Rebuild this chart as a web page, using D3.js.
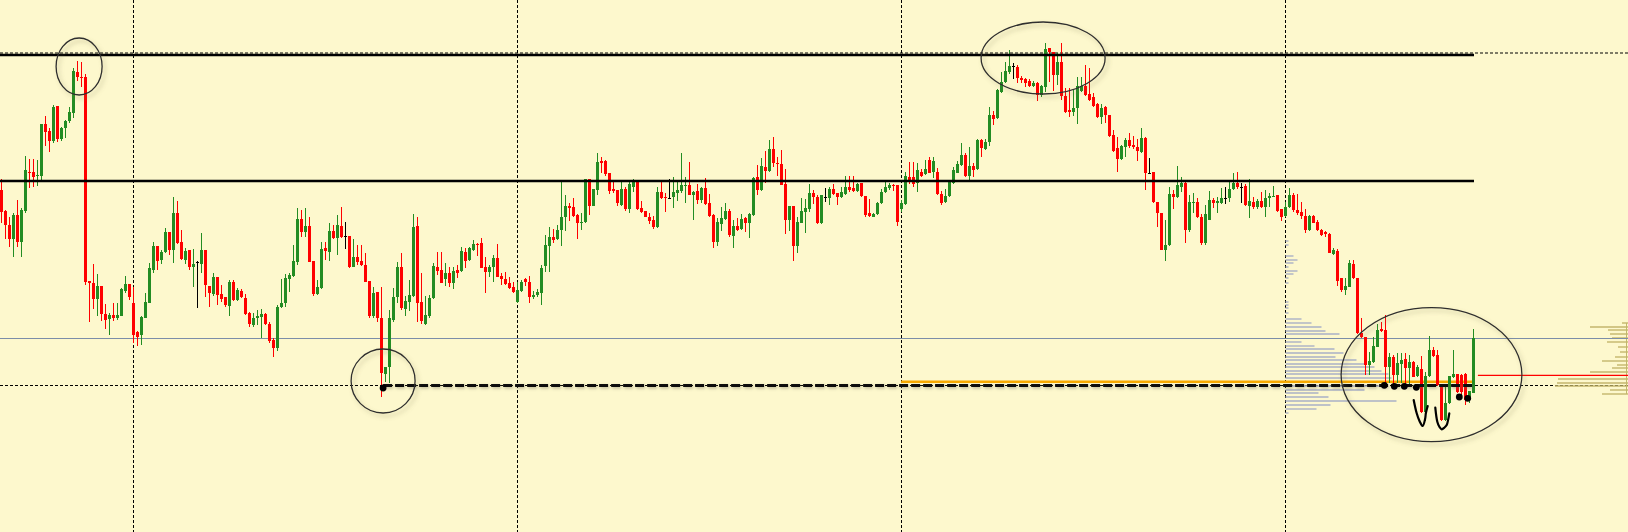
<!DOCTYPE html>
<html><head><meta charset="utf-8">
<script src="https://cdn.jsdelivr.net/npm/d3@7"></script>
<style>html,body{margin:0;padding:0;background:#fdf8cd;overflow:hidden}</style>
</head><body>
<svg id="c" width="1628" height="532"></svg>
<script>
// ---- OHLC series (price points, one bar per index) ----
const open = [
810,789,775,761,785,758,789,828,828,824, 824,876,869,859,894,861,872,879,887,928,
923,923,719,717,701,714,686,681,685,682, 684,709,716,697,668,665,682,697,730,754,
740,748,768,750,787,758,740,750,733,738, 736,750,714,706,723,706,703,694,718,700,
709,702,687,675,682,683,686,676,660,652, 693,697,721,724,738,781,768,774,739,706,
712,752,748,769,762,774,764,764,733,743, 739,735,719,684,708,682,626,633,680,703,
733,691,698,704,774,698,676,684,702,733, 730,721,727,717,730,729,748,740,750,756,
757,733,728,733,742,724,721,717,713,698, 709,721,718,703,705,707,734,754,763,761,
770,783,794,793,785,777,778,821,794,810, 839,839,827,811,810,795,811,791,813,818,
792,789,783,780,773,808,803,802,803,807, 809,814,815,805,809,800,812,797,785,758,
776,781,789,764,774,771,782,777,785,823, 810,833,829,851,837,836,816,780,794,754,
777,788,791,807,803,777,803,802,811,807, 803,806,813,812,809,817,804,787,783,786,
797,808,812,815,815,791,796,823,823,817, 828,826,840,828,828,806,798,804,817,827,
835,845,824,834,831,860,851,858,885,882, 908,918,928,934,933,922,921,919,914,917,
905,913,952,948,925,938,904,890,888,892, 909,914,906,903,896,883,893,885,865,852,
841,853,860,855,853,848,862,827,828,798, 787,750,755,806,803,813,817,770,797,798,
783,757,780,800,797,797,802,802,811,817, 813,814,794,798,793,799,793,802,803,805,
791,784,793,805,790,788,784,770,784,778, 770,768,766,746,749,722,710,713,736,722,
667,663,635,638,653,671,670,633,643,625, 636,641,632,638,624,631,588,624,650,645,
615,580,597,623,626,625,626,600,607];
const high = [
821,790,783,787,800,792,844,841,841,840, 876,884,872,895,894,873,880,893,932,939,
938,926,719,736,726,714,696,687,697,697, 712,724,716,713,669,684,707,737,758,754,
750,772,768,803,799,770,752,750,751,739, 767,750,714,727,723,715,703,720,720,712,
711,706,688,687,690,691,687,678,662,695, 721,726,727,755,792,790,792,783,739,720,
758,758,777,775,785,793,778,764,761,755, 755,747,719,713,708,713,633,690,712,738,
747,704,720,786,783,727,704,705,737,748, 748,737,733,733,735,753,752,753,760,757,
762,743,735,745,756,727,728,723,718,718, 720,722,724,709,711,735,765,773,771,775,
819,805,797,802,786,787,821,821,811,847, 843,840,827,818,810,819,813,818,821,818,
799,789,787,784,813,818,807,821,823,820, 847,823,838,809,816,813,822,806,786,782,
793,797,791,780,782,786,783,787,823,835, 842,849,860,863,843,850,831,794,794,783,
802,801,816,810,805,805,812,813,816,807, 813,824,824,824,817,817,804,801,787,798,
811,818,817,816,815,800,828,838,838,837, 831,840,843,843,832,809,811,819,833,839,
857,847,853,837,861,861,861,893,889,911, 928,938,950,937,935,924,922,921,919,918,
915,957,952,948,947,957,912,912,910,923, 923,935,932,907,897,896,894,885,870,863,
855,862,867,864,861,872,863,842,828,798, 787,780,813,810,834,823,819,805,807,802,
786,795,809,802,803,812,813,818,827,828, 817,816,821,803,801,808,810,807,814,805,
791,798,812,807,806,798,791,785,785,780, 771,769,767,752,751,722,722,740,740,722,
682,663,648,663,676,678,685,647,645,647, 647,647,645,639,635,644,628,664,653,650,
615,615,624,650,626,626,627,609,671];
const low = [
777,761,753,743,753,743,787,812,813,814, 820,854,848,857,858,859,862,877,882,919,
913,715,678,691,684,679,671,665,679,680, 684,707,700,657,654,655,682,697,727,730,
736,747,745,737,756,740,736,730,713,692, 727,703,693,704,695,698,693,684,699,699,
702,685,673,673,675,662,675,657,643,649, 692,693,708,723,735,763,763,738,704,705,
711,740,739,761,745,762,751,732,733,735, 734,718,682,682,678,603,618,617,678,697,
690,684,689,703,678,676,675,682,701,725, 717,714,713,711,722,728,732,739,749,744,
732,707,723,718,723,715,715,711,707,697, 708,714,697,701,703,695,728,728,757,760,
754,769,779,783,761,770,777,785,794,805, 827,824,806,807,794,794,789,787,808,790,
787,783,776,771,772,801,788,802,792,799, 807,797,805,780,796,797,795,783,752,754,
769,780,763,752,769,770,768,762,784,805, 809,817,828,833,824,815,766,769,739,747,
777,767,788,796,776,776,798,795,805,795, 802,805,808,808,808,803,783,783,783,785,
796,807,810,809,774,788,795,816,813,808, 823,825,827,822,805,795,797,803,816,827,
834,823,818,823,830,843,850,854,875,881, 907,917,926,921,917,917,913,913,913,899,
903,908,918,909,915,900,887,883,884,876, 908,904,899,893,882,876,877,863,848,828,
840,843,852,851,839,847,810,826,797,773, 750,739,754,791,802,808,757,768,787,782,
755,755,780,792,787,796,796,798,810,811, 797,794,782,791,791,792,783,793,803,788,
779,783,792,788,785,781,767,769,777,769, 764,763,747,745,714,708,705,713,721,666,
662,625,625,637,653,668,614,617,614,617, 617,614,615,623,623,587,579,623,643,614,
579,579,596,622,607,601,595,597,607];
const close = [
788,775,761,785,758,790,830,827,823,825, 876,868,859,893,861,872,879,888,929,923,
922,718,717,701,714,686,680,685,682,685, 711,716,703,665,663,683,698,732,754,739,
748,768,750,787,757,741,749,733,736,738, 750,715,707,723,705,701,695,718,700,710,
703,686,676,682,684,686,676,659,652,693, 697,722,725,739,781,768,774,738,706,713,
751,749,769,762,775,763,764,733,743,738, 735,718,684,707,682,627,633,682,703,733,
692,699,705,773,697,679,685,702,734,729, 717,727,717,729,727,749,739,752,756,755,
732,728,733,742,723,721,716,712,708,710, 718,718,703,705,708,732,755,763,760,770,
783,794,792,784,777,778,821,794,811,838, 837,826,809,809,797,811,791,816,818,791,
788,783,779,773,808,802,802,802,808,810, 815,815,805,808,800,812,796,784,758,778,
782,789,765,774,770,781,777,786,822,810, 834,829,851,837,836,815,780,794,754,778,
789,792,807,803,777,805,803,811,806,803, 808,813,810,809,816,804,785,784,786,797,
808,813,815,814,778,797,824,820,816,830, 824,831,827,839,806,797,804,818,830,836,
845,824,834,830,860,852,858,885,881,910, 918,929,934,934,922,920,917,914,917,905,
914,951,948,925,938,904,888,888,892,914, 914,905,900,894,883,892,885,864,849,841,
854,860,854,853,849,862,827,827,798,787, 750,755,806,803,815,817,770,798,798,783,
757,786,800,797,799,802,802,811,817,813, 813,795,799,793,799,793,802,804,804,789,
783,793,805,790,787,784,770,784,777,770, 765,766,747,750,719,710,714,737,722,667,
663,635,639,654,670,669,633,643,625,637, 640,632,638,623,633,588,624,650,644,615,
580,597,624,626,608,608,600,609,662];

// ---- chart objects (price levels, bar indices) ----
const gridBars = [33, 129, 225, 321];
const gridLevels = [947, 614.5];
const resistanceTop = 945;
const resistanceMid = 819;
const supportDashed = 614.5;
const supportDashedFrom = 95.4;
const orangeLevel = 618.3;
const orangeFrom = 224.9;
const blueLevel = 661.5;
const redLevel = 624.7;
const redFrom = 369.1;

// volume profile at left (grey) — price levels and volumes
const profPrice = [759,755,744,740,737,733,729,726,722,717,698,695,692,687,681,677,673,669,666,658,654,651,647,643,640,636,633,629,626,622,618,614,610,607,603,599,595,591,587];
const profVol   = [3,3,8,12,8,3,12,8,3,3,3,3,3,3,16,26,36,40,54,16,29,49,58,50,71,79,89,96,103,106,116,100,79,33,43,111,45,31,3];
// volume profile at right edge (olive)
const profRPrice = [677,673,670,666,662,658,653,648,643,639,635,632,628,621,617,614,610,606];
const profRVol   = [6,38,20,18,16,21,10,8,13,26,11,16,38,70,71,73,18,26];

// annotations
const ellipses = [
  {i:19.4, p:933.5, ri:5.75, rp:28.5},
  {i:95.4, p:619,   ri:8,    rp:32},
  {i:260.4,p:942,   ri:15.5, rp:36},
  {i:357.5,p:625.3, ri:22.6, rp:67}
];
const dotBars   = [95.4, 345.7, 348.2, 350.7, 353.7, 364.45, 366.55];
const dotPrices = [612, 614.7, 613.7, 613.7, 612.7, 603, 601.7];
const scribble1 = [[353.05,600],[353.8,586.7],[354.5,579],[355.3,574],[355.9,581],[356.1,587],[356.55,594]];
const scribble2 = [[358.45,592.3],[358.95,578.3],[359.5,573],[360.05,570.7],[360.75,572.5],[361.3,575],[361.7,581],[361.95,586.7]];

// ---- drawing ----
const W = 1628, H = 532;
const svg = d3.select('#c');
const n = open.length;
const idx = d3.range(n);
const x = d3.scaleLinear().domain([0, n - 1]).range([1.5, 1473.5]);
const y = d3.scaleLinear().domain([1000, 468]).range([0, H]);
const lastX = x(n - 1) + 0.5;

const defs = svg.append('defs');
const f = defs.append('filter').attr('id','sh').attr('x','-20%').attr('y','-20%').attr('width','140%').attr('height','140%');
f.append('feDropShadow').attr('dx',2.5).attr('dy',3).attr('stdDeviation',2.2)
  .attr('flood-color','#7d7650').attr('flood-opacity',0.45);
const f2 = defs.append('filter').attr('id','sh2').attr('filterUnits','userSpaceOnUse')
  .attr('x',0).attr('y',0).attr('width',W).attr('height',H);
f2.append('feDropShadow').attr('dx',1).attr('dy',1.5).attr('stdDeviation',1.5)
  .attr('flood-color','#6d6a55').attr('flood-opacity',0.45);

svg.append('rect').attr('width',W).attr('height',H).attr('fill','#fdf8cd');

// grid
svg.append('g').selectAll('line').data(gridBars).join('line')
  .attr('x1',d=>x(d)).attr('x2',d=>x(d)).attr('y1',0).attr('y2',H)
  .attr('stroke','#000').attr('stroke-width',1).attr('stroke-dasharray','3,2');
svg.append('g').selectAll('line').data(gridLevels).join('line')
  .attr('x1',0).attr('x2',W).attr('y1',d=>y(d)).attr('y2',d=>y(d))
  .attr('stroke','#000').attr('stroke-width',1).attr('stroke-dasharray','3,2');

// volume profiles
svg.append('g').selectAll('line').data(profPrice).join('line')
  .attr('x1',x(gridBars[3])).attr('x2',(d,k)=>x(gridBars[3])+profVol[k])
  .attr('y1',d=>y(d)).attr('y2',d=>y(d))
  .attr('stroke','#a9b1c6').attr('stroke-width',1.4);
svg.append('g').selectAll('line').data(profRPrice).join('line')
  .attr('x1',(d,k)=>W-profRVol[k]).attr('x2',W)
  .attr('y1',d=>y(d)).attr('y2',d=>y(d))
  .attr('stroke','#c3b66c').attr('stroke-width',1.4);
svg.append('line').attr('x1',W-1.5).attr('x2',W-1.5)
  .attr('y1',y(d3.max(profRPrice))).attr('y2',y(d3.min(profRPrice)))
  .attr('stroke','#c3b66c').attr('stroke-width',1);

// blue-grey level
svg.append('line').attr('x1',0).attr('x2',W).attr('y1',y(blueLevel)).attr('y2',y(blueLevel))
  .attr('stroke','#7c8ea8').attr('stroke-width',1);
// red level
svg.append('line').attr('x1',x(redFrom)).attr('x2',W).attr('y1',y(redLevel)).attr('y2',y(redLevel))
  .attr('stroke','#ff0000').attr('stroke-width',1.2);
// orange level
svg.append('line').attr('x1',x(orangeFrom)).attr('x2',lastX).attr('y1',y(orangeLevel)).attr('y2',y(orangeLevel))
  .attr('stroke','#f7a800').attr('stroke-width',2.5);

// candles
const col = i => close[i] > open[i] ? '#238c23' : (close[i] < open[i] ? '#ff0000' : '#000000');
const cg = svg.append('g').attr('shape-rendering','crispEdges');
cg.selectAll('line').data(idx).join('line')
  .attr('x1',i=>x(i)).attr('x2',i=>x(i))
  .attr('y1',i=>y(high[i])).attr('y2',i=>y(low[i]))
  .attr('stroke',col).attr('stroke-width',1);
cg.selectAll('rect').data(idx).join('rect')
  .attr('x',i=>x(i)-1.5).attr('width',3)
  .attr('y',i=>y(Math.max(open[i],close[i])))
  .attr('height',i=>Math.max(1,Math.abs(y(open[i])-y(close[i]))))
  .attr('fill',col);

// solid horizontal levels
svg.append('line').attr('x1',0).attr('x2',lastX).attr('y1',y(resistanceTop)).attr('y2',y(resistanceTop))
  .attr('stroke','#000').attr('stroke-width',2.4);
svg.append('line').attr('x1',0).attr('x2',lastX).attr('y1',y(resistanceMid)).attr('y2',y(resistanceMid))
  .attr('stroke','#000').attr('stroke-width',2.6);
// thick dashed support
svg.append('line').attr('x1',x(supportDashedFrom)).attr('x2',lastX)
  .attr('y1',y(supportDashed)).attr('y2',y(supportDashed))
  .attr('stroke','#111').attr('stroke-width',3).attr('stroke-dasharray','9,3')
  .attr('filter','url(#sh2)');

// dots
svg.append('g').selectAll('circle').data(dotBars).join('circle')
  .attr('cx',d=>x(d)).attr('cy',(d,k)=>y(dotPrices[k])).attr('r',3.4).attr('fill','#000');

// ellipses
svg.append('g').selectAll('ellipse').data(ellipses).join('ellipse')
  .attr('cx',d=>x(d.i)).attr('cy',d=>y(d.p))
  .attr('rx',d=>x(d.i+d.ri)-x(d.i)).attr('ry',d=>y(d.p-d.rp)-y(d.p))
  .attr('fill','none').attr('stroke','#2e2e2e').attr('stroke-width',1.3)
  .attr('filter','url(#sh)');

// hand drawn scribbles
const ln = d3.line().x(d=>x(d[0])).y(d=>y(d[1])).curve(d3.curveCatmullRom);
[scribble1, scribble2].forEach(s=>{
  svg.append('path').attr('d',ln(s)).attr('fill','none').attr('stroke','#000')
    .attr('stroke-width',2.2).attr('stroke-linecap','round').attr('stroke-linejoin','round');
});
</script>
</body></html>
